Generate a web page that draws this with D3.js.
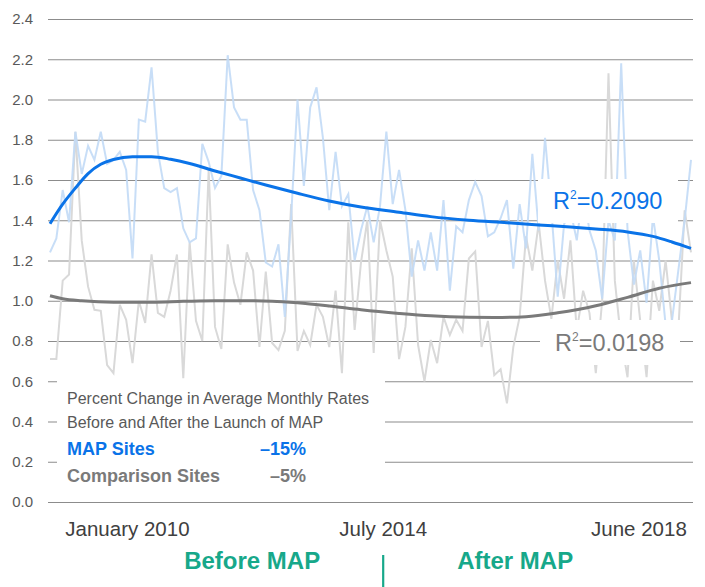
<!DOCTYPE html>
<html><head><meta charset="utf-8">
<script src="https://cdn.jsdelivr.net/npm/d3@7"></script>
<style>body{margin:0;background:#fff;}svg{display:block;font-family:"Liberation Sans",Arial,sans-serif;}</style>
</head><body><svg id="c" width="705" height="587"></svg>
<script>
// Monthly index values (January 2010 .. June 2018)
const mapSites = [1.24,1.31,1.55,1.39,1.84,1.63,1.77,1.70,1.84,1.68,1.70,1.74,1.65,1.21,1.90,1.89,2.16,1.74,1.56,1.54,
1.56,1.36,1.29,1.31,1.78,1.69,1.56,1.62,2.22,1.96,1.90,1.90,1.55,1.45,1.19,1.17,1.28,0.92,1.42,2.00,
1.57,1.96,2.06,1.81,1.45,1.74,1.47,1.53,1.20,1.35,1.47,1.29,1.47,1.84,1.48,1.65,1.45,1.12,1.30,1.15,
1.34,1.15,1.50,1.05,1.37,1.34,1.50,1.59,1.52,1.32,1.34,1.41,1.50,1.16,1.48,1.26,1.73,1.35,1.81,1.45,
1.02,1.38,1.45,1.30,1.55,1.35,1.25,1.01,1.40,1.30,2.18,1.35,1.08,1.25,0.99,1.42,1.20,0.88,0.90,1.15,
1.40,1.70];
const comparisonSites = [0.71,0.71,1.10,1.13,1.84,1.30,1.07,0.955,0.95,0.68,0.64,0.98,0.905,0.69,1.00,0.89,1.23,0.94,0.92,1.05,
1.23,0.615,1.29,0.90,0.80,1.65,0.87,0.76,1.28,1.09,0.98,1.24,1.15,0.77,1.145,0.79,0.755,0.85,1.48,0.75,
0.85,0.78,0.98,0.92,0.77,1.05,0.64,1.39,0.855,1.19,1.40,0.74,1.40,1.25,1.12,0.71,0.87,1.26,0.78,0.60,
0.805,0.69,0.92,0.83,0.905,0.85,1.21,1.245,0.77,0.90,0.63,0.66,0.49,0.77,0.92,1.32,1.15,1.385,1.10,0.91,
1.20,1.01,1.30,0.85,1.05,0.94,0.64,1.00,2.13,1.10,0.80,0.62,1.20,0.90,0.62,1.10,0.95,1.20,0.90,0.85,
1.45,1.24];
// Trend lines: [month index, value]
const mapTrend = [[0,1.383],[2,1.48],[4,1.56],[6,1.632],[8,1.678],[10,1.702],[13,1.716],[16,1.716],[19,1.703],[22,1.682],
[26,1.645],[30,1.61],[34,1.575],[39,1.534],[44,1.496],[49,1.466],[55,1.44],[60,1.418],[66,1.4],[72,1.388],
[77,1.377],[82,1.367],[86,1.357],[91,1.342],[95,1.32],[98,1.292],[101,1.26]];
const compTrend = [[0,1.025],[2,1.01],[5,1.0],[10,0.993],[16,0.993],[21,0.997],[26,1.0],[31,1.0],[35,0.998],[39,0.99],
[44,0.974],[49,0.955],[55,0.937],[60,0.925],[66,0.918],[70,0.917],[75,0.921],[80,0.94],[86,0.975],[91,1.017],
[96,1.062],[101,1.09]];
const yTicks = [0,0.2,0.4,0.6,0.8,1.0,1.2,1.4,1.6,1.8,2.0,2.2,2.4];
const xTickLabels = ["January 2010","July 2014","June 2018"];
const xTickAt = [12.2, 52.5, 92.8];
const launchAt = 52.5;
const mapR2 = "0.2090", compR2 = "0.0198";
const mapChange = "\u201315%", compChange = "\u20135%";

const BLUE = "#0a73e8", LBLUE = "#c2daf6", GRAY = "#7a7a7a", LGRAY = "#d9d9d9", TEAL = "#17a88a", TXT = "#595959";
const svg = d3.select("#c");
const x = d3.scaleLinear().domain([0, mapSites.length - 1]).range([50, 691]);
const y = d3.scaleLinear().domain([0, 2.4]).range([502, 19]);
const L = 48, R = 693;

// grid / y axis
const ax = svg.append("g").attr("transform", `translate(${L},0)`)
  .call(d3.axisLeft(y).tickValues(yTicks).tickSize(-(R - L)).tickPadding(15).tickFormat(d3.format(".1f")));
ax.select(".domain").remove();
ax.selectAll(".tick line").attr("stroke", "#8c8c8c").attr("stroke-width", 1.1);
ax.selectAll(".tick text").attr("fill", TXT).style("font-size", "15px").style("font-family", '"Liberation Sans",Arial,sans-serif');

// data lines
const line = d3.line().x((d, i) => x(i)).y(d => y(d));
svg.append("path").datum(comparisonSites).attr("d", line).attr("fill", "none").attr("stroke", LGRAY).attr("stroke-width", 2);
svg.append("path").datum(mapSites).attr("d", line).attr("fill", "none").attr("stroke", LBLUE).attr("stroke-width", 2).attr("opacity", 0.9);

// white label boxes
svg.append("rect").attr("x", 57).attr("y", y(0.6) - 1).attr("width", 328).attr("height", 115).attr("fill", "#fff");
svg.append("rect").attr("x", 538).attr("y", 179).attr("width", 140).attr("height", 44).attr("fill", "#fff");
svg.append("rect").attr("x", 540).attr("y", 320).attr("width", 140).attr("height", 45).attr("fill", "#fff");

// trend lines
const tline = d3.line().x(d => x(d[0])).y(d => y(d[1])).curve(d3.curveMonotoneX);
svg.append("path").datum(compTrend).attr("d", tline).attr("fill", "none").attr("stroke", GRAY).attr("stroke-width", 3);
svg.append("path").datum(mapTrend).attr("d", tline).attr("fill", "none").attr("stroke", BLUE).attr("stroke-width", 3);

// R2 labels
function r2(xp, yp, val, col) {
  const t = svg.append("text").attr("x", xp).attr("y", yp).attr("fill", col).style("font-size", "23.5px");
  t.append("tspan").text("R");
  t.append("tspan").attr("dy", -10).style("font-size", "12px").text("2");
  t.append("tspan").attr("dy", 10).text("=" + val);
}
r2(553, 209, mapR2, BLUE);
r2(555, 351, compR2, GRAY);

// legend text
svg.append("text").attr("x", 67).attr("y", 404).attr("fill", TXT).style("font-size", "16px").text("Percent Change in Average Monthly Rates");
svg.append("text").attr("x", 67).attr("y", 428).attr("fill", TXT).style("font-size", "16px").text("Before and After the Launch of MAP");
svg.append("text").attr("x", 67).attr("y", 455).attr("fill", BLUE).style("font-size", "18px").style("font-weight", "bold").text("MAP Sites");
svg.append("text").attr("x", 306).attr("y", 455).attr("text-anchor", "end").attr("fill", BLUE).style("font-size", "18px").style("font-weight", "bold").text(mapChange);
svg.append("text").attr("x", 67).attr("y", 482).attr("fill", GRAY).style("font-size", "18px").style("font-weight", "bold").text("Comparison Sites");
svg.append("text").attr("x", 306).attr("y", 482).attr("text-anchor", "end").attr("fill", GRAY).style("font-size", "18px").style("font-weight", "bold").text(compChange);

// x labels
svg.selectAll(".xl").data(xTickLabels).enter().append("text")
  .attr("x", (d, i) => x(xTickAt[i])).attr("y", 536).attr("text-anchor", "middle")
  .attr("fill", "#404040").style("font-size", "20.5px").text(d => d);

// before/after
const lx = x(launchAt);
svg.append("line").attr("x1", lx).attr("x2", lx).attr("y1", 555).attr("y2", 587).attr("stroke", TEAL).attr("stroke-width", 2.2);
svg.append("text").attr("x", lx - 131).attr("y", 569).attr("text-anchor", "middle").attr("fill", TEAL)
  .style("font-size", "24px").style("font-weight", "bold").text("Before MAP");
svg.append("text").attr("x", lx + 132).attr("y", 569).attr("text-anchor", "middle").attr("fill", TEAL)
  .style("font-size", "24px").style("font-weight", "bold").text("After MAP");
</script></body></html>
